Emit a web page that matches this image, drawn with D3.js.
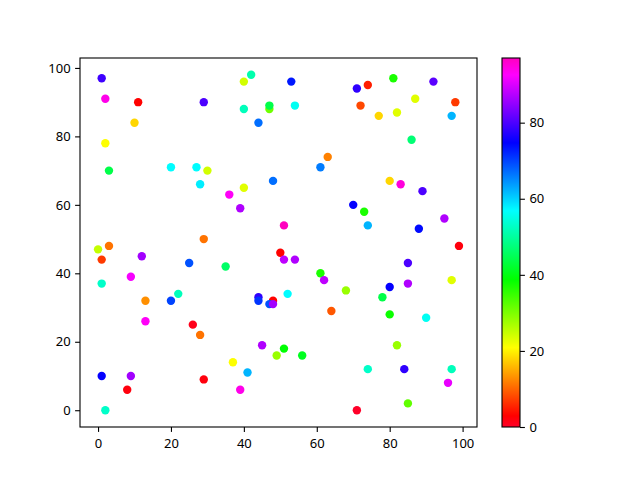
<!DOCTYPE html>
<html><head><meta charset="utf-8">
<script src="https://cdn.jsdelivr.net/npm/d3@7"></script>
<style>body{margin:0;background:#fff}svg{display:block}text{font-family:"Noto Sans","DejaVu Sans",sans-serif;font-size:13px;fill:#000}</style>
</head><body>
<script>
const xs = [1,2,11,29,42,40,40,47,47,44,10,2,3,20,27,30,28,36,40,39,48,29,3,
53,54,71,74,81,92,72,77,82,87,98,97,86,63,61,80,83,89,70,73,74,51,88,95,99,
0,1,12,25,35,50,1,9,13,22,20,44,44,48,47,48,13,26,28,45,49,37,41,1,9,29,8,39,2,
51,54,61,62,68,52,64,78,80,85,85,80,90,97,82,51,56,74,84,97,96,85,71];
const ys = [97,91,90,90,98,96,88,88,89,84,84,78,70,71,71,70,66,63,65,59,67,50,48,
96,89,94,95,97,96,89,86,87,91,90,86,79,74,71,67,66,64,60,58,54,54,53,56,48,
47,44,45,43,42,46,37,39,32,34,32,33,32,32,31,31,26,25,22,19,16,14,11,10,10,9,6,6,0,
44,44,40,38,35,34,29,33,36,43,37,28,27,38,19,18,16,12,12,12,8,2,0];
const cs = [79,94,3,80,51,24,52,31,44,67,18,21,44,57,57,24,58,93,23,87,67,11,11,
73,56,78,5,37,81,8,18,23,23,7,62,47,12,66,18,95,80,75,37,62,97,74,87,2,
25,7,86,69,46,3,53,92,13,52,70,78,71,3,69,86,93,1,11,87,28,21,62,75,86,2,2,94,53,
88,87,37,88,28,57,9,44,75,80,87,38,56,23,28,39,41,53,78,52,91,32,0];
const xTicks = [0,20,40,60,80,100];
const yTicks = [0,20,40,60,80,100];
const cTicks = [0,20,40,60,80];

// gist_rainbow colormap stops
const cmapPos = [0,0.03,0.215,0.4,0.586,0.77,0.954,1];
const cmapCol = ["rgb(255,0,41)","rgb(255,0,0)","rgb(255,255,0)","rgb(0,255,0)","rgb(0,255,255)","rgb(0,0,255)","rgb(255,0,255)","rgb(255,0,191)"];
const cmap = d3.scaleLinear().domain(cmapPos).range(cmapCol).interpolate(d3.interpolateRgb);

const W=640,H=480, L=80, R=477, T=58, B=427;
const svg=d3.select("body").append("svg").attr("width",W).attr("height",H);

function pad(ext){const r=ext[1]-ext[0];return [ext[0]-0.05*r, ext[1]+0.05*r];}
const x=d3.scaleLinear().domain(pad(d3.extent(xs))).range([L,R]);
const y=d3.scaleLinear().domain(pad(d3.extent(ys))).range([B,T]);
const cext=d3.extent(cs);
const cnorm=d3.scaleLinear().domain(cext).range([0,1]);

const pts=d3.range(xs.length);
svg.append("g").selectAll("circle").data(pts).join("circle")
  .attr("cx",i=>x(xs[i])).attr("cy",i=>y(ys[i])).attr("r",4.2)
  .attr("fill",i=>cmap(cnorm(cs[i])));

svg.append("rect").attr("x",L).attr("y",T).attr("width",R-L).attr("height",B-T)
  .attr("fill","none").attr("stroke","#000").attr("stroke-width",1.1);

const xa=svg.append("g").attr("transform",`translate(0,${B})`)
  .call(d3.axisBottom(x).tickValues(xTicks).tickSize(4.9).tickPadding(4.5).tickFormat(d3.format("d")));
const ya=svg.append("g").attr("transform",`translate(${L},0)`)
  .call(d3.axisLeft(y).tickValues(yTicks).tickSize(4.9).tickPadding(4.5).tickFormat(d3.format("d")));
[xa,ya].forEach(a=>{a.select(".domain").remove();a.selectAll("line").attr("stroke","#000").attr("stroke-width",1.1);a.selectAll("text").attr("font-size",null).attr("font-family",null);});
xa.selectAll("text").attr("dy","0.9em");

// colorbar
const CL=502, CR=520;
const cy=d3.scaleLinear().domain(cext).range([B,T]);
const grad=svg.append("defs").append("linearGradient").attr("id","cg")
  .attr("x1",0).attr("y1",1).attr("x2",0).attr("y2",0);
grad.selectAll("stop").data(cmapPos).join("stop")
  .attr("offset",d=>d).attr("stop-color",(d,i)=>cmapCol[i]);
svg.append("rect").attr("x",CL).attr("y",T).attr("width",CR-CL).attr("height",B-T)
  .attr("fill","url(#cg)").attr("stroke","#000").attr("stroke-width",1.1);
const ca=svg.append("g").attr("transform",`translate(${CR},0)`)
  .call(d3.axisRight(cy).tickValues(cTicks).tickSize(4.9).tickPadding(4.5).tickFormat(d3.format("d")));
ca.select(".domain").remove();
ca.selectAll("line").attr("stroke","#000").attr("stroke-width",1.1);
ca.selectAll("text").attr("font-size",null).attr("font-family",null);
</script>
</body></html>
